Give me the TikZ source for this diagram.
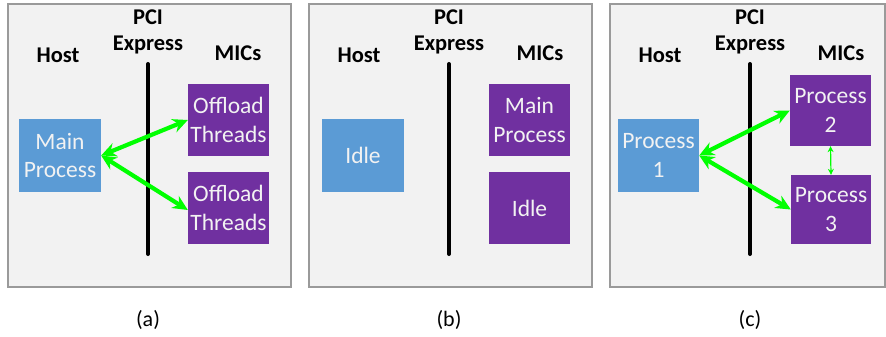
\documentclass[tikz,border=0pt]{standalone}
\usepackage{fontspec}
\setmainfont{Carlito}
\usetikzlibrary{arrows.meta}
\definecolor{panelbg}{HTML}{F2F2F2}
\definecolor{panelline}{HTML}{9A9A9A}
\definecolor{hostblue}{HTML}{5B9BD5}
\definecolor{micpurple}{HTML}{7030A0}
\definecolor{arrowgreen}{HTML}{00FF00}
\begin{document}
\begin{tikzpicture}[x=1pt,y=-1pt,
  panel/.style={draw=panelline,line width=1.2pt,fill=panelbg},
  boxstyle/.style={inner sep=0pt,text=panelbg,align=center,font=\fontsize{23.5}{28.5}\selectfont},
  hostbox/.style={boxstyle,fill=hostblue},
  micbox/.style={boxstyle,fill=micpurple},
  lbl/.style={font=\fontsize{22.5}{27}\selectfont\bfseries,inner sep=0pt,align=center},
  captext/.style={font=\fontsize{22}{27}\selectfont,inner sep=0pt},
  bus/.style={line width=4pt,line cap=round},
  link/.style={arrowgreen,line width=4.2pt,{Stealth[length=15pt,width=14pt]}-{Stealth[length=15pt,width=14pt]}},
  thinlink/.style={arrowgreen,line width=1.2pt,{Stealth[length=6pt,width=6pt]}-{Stealth[length=6pt,width=6pt]}}
]
\useasboundingbox (0,0) rectangle (886,337);
% panels
\draw[panel] (8,4) rectangle (291,287);
\draw[panel] (309,4) rectangle (592,287);
\draw[panel] (610,4) rectangle (885,287);

% ---------- panel (a)
\node[lbl] (hostA) at (58,55) {Host};
\node[lbl] (pciA) at (148,17) {PCI};
\node[lbl] (expA) at (148,45) {Express};
\node[lbl] (micA) at (238,53) {MICs};
\coordinate (busAt) at (148,64);
\coordinate (busAb) at (148,254);
\draw[bus] (busAt) -- (busAb);
\node[hostbox,minimum width=82pt,minimum height=73pt] (mainA) at (60,155.5) {Main\\Process};
\node[micbox,minimum width=81pt,minimum height=72pt] (offA1) at (228.5,120) {Offload\\Threads};
\node[micbox,minimum width=81pt,minimum height=72pt] (offA2) at (228.5,208) {Offload\\Threads};
\draw[link] (mainA.east) -- (offA1.west);
\draw[link] (mainA.east) -- ([yshift=-2pt]offA2.west);
\node[captext] (capA) at (148,320) {(a)};

% ---------- panel (b)
\node[lbl] (hostB) at (359,55) {Host};
\node[lbl] (pciB) at (449,17) {PCI};
\node[lbl] (expB) at (449,45) {Express};
\node[lbl] (micB) at (540,53) {MICs};
\coordinate (busBt) at (449,64);
\coordinate (busBb) at (449,254);
\draw[bus] (busBt) -- (busBb);
\node[hostbox,minimum width=82pt,minimum height=73pt] (idleB) at (363,155.5) {Idle};
\node[micbox,minimum width=81pt,minimum height=72pt] (mainB) at (529.5,120) {Main\\Process};
\node[micbox,minimum width=81pt,minimum height=72pt] (idleB2) at (529.5,208) {Idle};
\node[captext] (capB) at (449,320) {(b)};

% ---------- panel (c)
\node[lbl] (hostC) at (660,55) {Host};
\node[lbl] (pciC) at (750,17) {PCI};
\node[lbl] (expC) at (750,45) {Express};
\node[lbl] (micC) at (841,53) {MICs};
\coordinate (busCt) at (750,64);
\coordinate (busCb) at (750,254);
\draw[bus] (busCt) -- (busCb);
\node[hostbox,minimum width=81pt,minimum height=73pt] (p1) at (658.5,155.5) {Process\\1};
\node[micbox,minimum width=81pt,minimum height=71pt] (p2) at (830.5,110.5) {Process\\2};
\node[micbox,minimum width=80pt,minimum height=69pt] (p3) at (831,209.5) {Process\\3};
\draw[link] (p1.east) -- (p2.west);
\draw[link] (p1.east) -- (p3.west);
\draw[thinlink] (p2.south) -- (p3.north);
\node[captext] (capC) at (750,320) {(c)};
\end{tikzpicture}
\end{document}
